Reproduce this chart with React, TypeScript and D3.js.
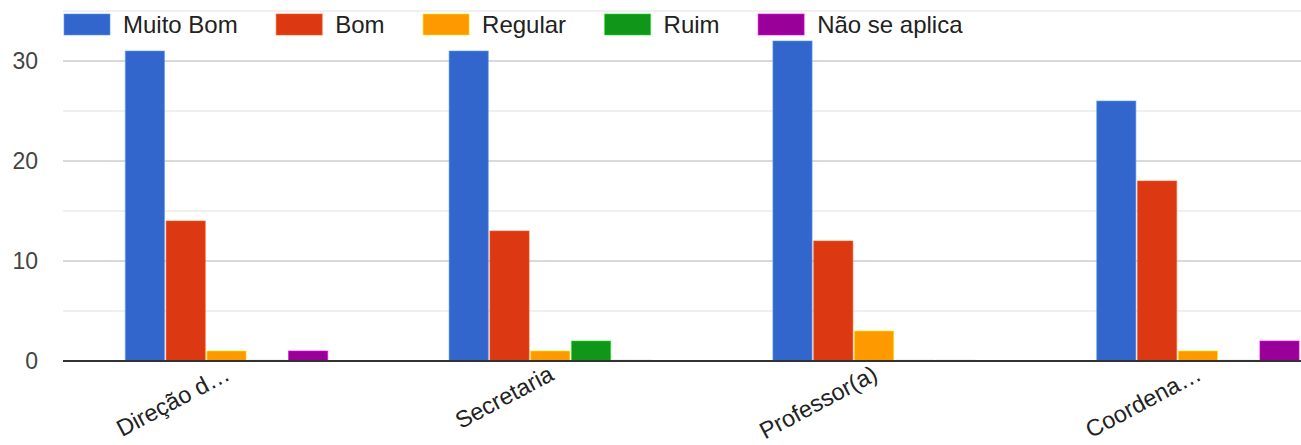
import React, { useEffect, useRef } from "react";
import * as d3 from "d3";

const categories = ["Direção d…", "Secretaria", "Professor(a)", "Coordena…"];
const seriesNames = ["Muito Bom", "Bom", "Regular", "Ruim", "Não se aplica"];
const seriesColors = ["#3366cc", "#dc3912", "#ff9900", "#109618", "#990099"];
const muitoBom = [31, 31, 32, 26];
const bom = [14, 13, 12, 18];
const regular = [1, 1, 3, 1];
const ruim = [0, 2, 0, 0];
const naoSeAplica = [1, 0, 0, 2];
const seriesValues = [muitoBom, bom, regular, ruim, naoSeAplica];
const majorTicks = [0, 10, 20, 30];
const minorTicks = [5, 15, 25, 35];

const W = 1301;
const H = 445;
const FONT = "Arial, 'Liberation Sans', sans-serif";

export default function App() {
  const ref = useRef<SVGSVGElement | null>(null);

  useEffect(() => {
    const svg = d3.select(ref.current);
    svg.selectAll("*").remove();

    const left = 63;
    const baseY = 361;
    const y = d3.scaleLinear().domain([0, 35]).range([baseY, 11]);
    const x0 = d3
      .scaleBand<string>()
      .domain(categories)
      .range([64.6, 1359.8])
      .paddingInner(0.375)
      .paddingOuter(0.1875);
    const x1 = d3
      .scaleBand<string>()
      .domain(seriesNames)
      .range([0, x0.bandwidth()])
      .paddingInner(0.04);

    // gridlines
    svg
      .append("g")
      .selectAll("line.minor")
      .data(minorTicks)
      .join("line")
      .attr("x1", left)
      .attr("x2", W)
      .attr("y1", (d) => y(d))
      .attr("y2", (d) => y(d))
      .attr("stroke", "#ebebeb")
      .attr("stroke-width", 1.5);
    svg
      .append("g")
      .selectAll("line.major")
      .data(majorTicks.filter((d) => d !== 0))
      .join("line")
      .attr("x1", left)
      .attr("x2", W)
      .attr("y1", (d) => y(d))
      .attr("y2", (d) => y(d))
      .attr("stroke", "#cccccc")
      .attr("stroke-width", 1.5);

    // y tick labels
    svg
      .append("g")
      .selectAll("text")
      .data(majorTicks)
      .join("text")
      .attr("x", 38)
      .attr("y", (d) => y(d) + 8)
      .attr("text-anchor", "end")
      .attr("font-family", FONT)
      .attr("font-size", 23)
      .attr("fill", "#444")
      .text((d) => String(d));

    // bars
    const groups = svg
      .append("g")
      .selectAll("g")
      .data(categories)
      .join("g")
      .attr("transform", (c) => `translate(${x0(c)},0)`);

    groups.each(function (c, ci) {
      const g = d3.select(this);
      seriesNames.forEach((s, si) => {
        const v = seriesValues[si][ci];
        const col = seriesColors[si];
        if (v > 0) {
          g.append("rect")
            .attr("x", x1(s)!)
            .attr("y", y(v))
            .attr("width", x1.bandwidth())
            .attr("height", baseY - y(v))
            .attr("fill", col)
            .attr("stroke", d3.color(col)!.brighter(1.2).formatHex())
            .attr("stroke-opacity", 0.6)
            .attr("stroke-width", 1);
        } else {
          g.append("rect")
            .attr("x", x1(s)!)
            .attr("y", baseY - 1.5)
            .attr("width", x1.bandwidth())
            .attr("height", 1)
            .attr("fill", col)
            .attr("opacity", 0.15);
        }
      });
    });

    // baseline
    svg
      .append("line")
      .attr("x1", left)
      .attr("x2", W)
      .attr("y1", y(0))
      .attr("y2", y(0))
      .attr("stroke", "#333")
      .attr("stroke-width", 2);

    // x labels
    svg
      .append("g")
      .selectAll("text")
      .data(categories)
      .join("text")
      .attr("transform", (c) => `translate(${x0(c)! + x0.bandwidth() / 2 + 5},${379}) rotate(-28)`)
      .attr("text-anchor", "end")
      .attr("font-family", FONT)
      .attr("font-size", 23.5)
      .attr("fill", "#222")
      .text((c) => c);

    // legend
    const legend = svg.append("g");
    let lx = 64;
    seriesNames.forEach((s, i) => {
      legend
        .append("rect")
        .attr("x", lx)
        .attr("y", 14)
        .attr("width", 46)
        .attr("height", 21)
        .attr("fill", seriesColors[i])
        .attr("stroke", d3.color(seriesColors[i])!.brighter(1.2).formatHex())
        .attr("stroke-opacity", 0.6);
      const t = legend
        .append("text")
        .attr("x", lx + 59)
        .attr("y", 33)
        .attr("font-family", FONT)
        .attr("font-size", 24)
        .attr("fill", "#222")
        .text(s);
      const tw = (t.node() as SVGTextElement).getComputedTextLength();
      lx = lx + 59 + tw + 38.5;
    });
  }, []);

  return (
    <svg
      ref={ref}
      width={W}
      height={H}
      style={{ position: "absolute", left: 0, top: 0, background: "#fff", overflow: "hidden" }}
    />
  );
}
